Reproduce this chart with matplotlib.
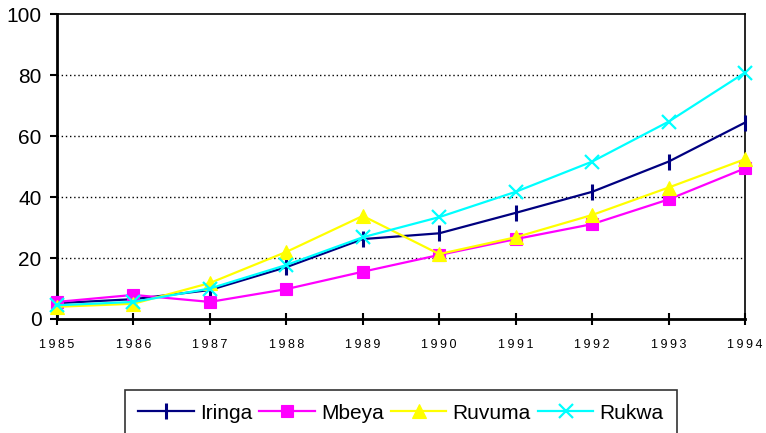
import matplotlib
matplotlib.use("Agg")
import matplotlib.pyplot as plt

years = [1985, 1986, 1987, 1988, 1989, 1990, 1991, 1992, 1993, 1994]
iringa = [5.2, 6.5, 9.5, 17.0, 26.2, 28.1, 34.8, 41.7, 51.6, 64.4]
mbeya = [5.6, 7.9, 5.6, 9.8, 15.5, 21.0, 26.2, 31.1, 39.2, 49.4]
ruvuma = [4.0, 5.0, 11.8, 22.0, 33.8, 21.3, 26.8, 34.1, 43.1, 52.4]
rukwa = [4.5, 5.6, 10.0, 17.7, 26.8, 33.4, 41.7, 51.6, 64.7, 80.8]
series_names = ["Iringa", "Mbeya", "Ruvuma", "Rukwa"]
yticks = [0, 20, 40, 60, 80, 100]

plt.rcParams['font.family'] = ['Liberation Sans', 'DejaVu Sans']

fig = plt.figure(figsize=(7.66, 4.33), dpi=100)
ax = fig.add_axes([57/766, 1-319/433, (745-57)/766, 305/433])

styles = [
    dict(color='#000080', marker='|', markersize=11, markeredgewidth=2.2),
    dict(color='#FF00FF', marker='s', markersize=9, markeredgewidth=0.8),
    dict(color='#FFFF00', marker='^', markersize=10, markeredgewidth=0.8),
    dict(color='#00FFFF', marker='x', markersize=10, markeredgewidth=1.6),
]
for vals, name, st in zip([iringa, mbeya, ruvuma, rukwa], series_names, styles):
    ax.plot(years, vals, label=name, linewidth=1.6, clip_on=False, zorder=3, **st)

ax.set_xlim(years[0], years[-1])
ax.set_ylim(0, 100)
ax.set_yticks(yticks)
ax.set_yticklabels([str(v) for v in yticks], fontsize=15)
ax.set_xticks(years)
ax.set_xticklabels(['\u2009'.join(str(y)) for y in years], fontsize=9)
ax.tick_params(axis='x', direction='inout', length=9, width=1.5, pad=10)
ax.tick_params(axis='y', direction='out', length=5, width=1.5, pad=6)
for y in yticks[1:-1]:
    ax.axhline(y, color='black', linestyle=(0, (1, 2)), linewidth=1.0, zorder=1)
for side in ['left', 'bottom']:
    ax.spines[side].set_linewidth(2.0)
for side in ['top', 'right']:
    ax.spines[side].set_linewidth(1.2)

leg = fig.legend(loc='upper center', bbox_to_anchor=(401/766, 1-390/433), ncol=4,
                 fontsize=15, frameon=True, fancybox=False, edgecolor='black',
                 handlelength=2.65, columnspacing=0.35, handletextpad=0.3,
                 borderpad=0.65, borderaxespad=0)
leg.get_frame().set_linewidth(1.2)

fig.savefig('out.png', dpi=100)
